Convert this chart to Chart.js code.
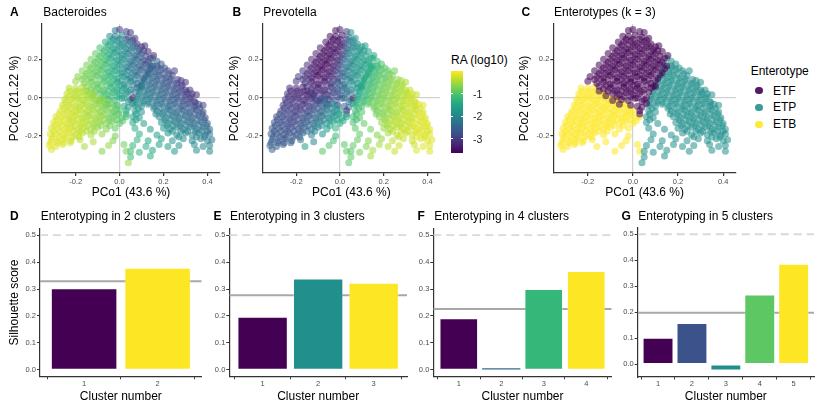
<!DOCTYPE html>
<html>
<head>
<meta charset="utf-8">
<script src="https://cdn.jsdelivr.net/npm/chart.js@4.4.1/dist/chart.umd.min.js"></script>
<style>
  body { margin: 0; background: #fff; }
  #page { position: relative; width: 816px; height: 408px; overflow: hidden; font-family: "Liberation Sans", Arial, sans-serif; }
  canvas { position: absolute; }
  .txt { position: absolute; white-space: nowrap; font-size: 12px; line-height: 14px; height: 14px; color: #000; }
  .tag { font-weight: bold; }
</style>
</head>
<body>
<div id="page"></div>
<script>
// PCoA coordinates: [PCo1, PCo2, Bacteroides log10 RA, Prevotella log10 RA]
const etfPoints = [
  [-0.02,0.35,-2.2,-3.5],[0.00,0.355,-3.0,-3.3],[0.03,0.345,-3.0,-3.0],[0.05,0.34,-3.1,-1.9],
  [-0.045,0.32,-1.9,-3.5],[-0.02,0.32,-2.2,-3.5],[0.01,0.325,-1.9,-3.4],[0.04,0.315,-2.6,-2.2],[0.07,0.31,-3.1,-1.8],
  [-0.03,0.305,-1.8,-3.5],[0.00,0.305,-2.2,-3.4],[0.03,0.305,-2.8,-2.8],[0.06,0.30,-3.0,-1.9],
  [-0.065,0.29,-1.4,-3.4],[-0.04,0.29,-1.6,-3.5],[-0.01,0.295,-1.8,-3.5],[0.02,0.285,-1.9,-3.0],[0.05,0.29,-2.4,-2.1],[0.08,0.28,-3.2,-1.8],
  [-0.05,0.275,-1.5,-3.5],[-0.02,0.275,-1.7,-3.5],[0.01,0.275,-1.9,-3.2],[0.04,0.275,-2.2,-2.3],[0.07,0.27,-2.6,-1.9],[0.10,0.265,-3.1,-1.7],
  [-0.09,0.26,-1.1,-3.4],[-0.06,0.26,-1.3,-3.5],[-0.03,0.255,-1.6,-3.5],[0.00,0.265,-1.8,-3.4],[0.03,0.255,-2.0,-2.6],[0.06,0.26,-2.3,-2.0],[0.09,0.25,-2.6,-1.8],[0.115,0.27,-3.2,-1.7],
  [-0.07,0.245,-1.2,-3.5],[-0.04,0.245,-1.5,-3.5],[-0.01,0.245,-1.7,-3.4],[0.02,0.245,-1.9,-2.8],[0.05,0.245,-2.2,-2.0],[0.08,0.24,-2.5,-1.8],[0.11,0.245,-2.9,-1.7],
  [-0.11,0.23,-0.9,-3.3],[-0.08,0.23,-1.1,-3.5],[-0.05,0.225,-1.4,-3.5],[-0.02,0.235,-1.7,-3.4],[0.01,0.225,-1.8,-3.0],[0.04,0.23,-2.1,-2.0],[0.07,0.22,-2.4,-1.8],[0.10,0.23,-2.7,-1.6],[0.13,0.24,-3.2,-1.6],
  [-0.09,0.215,-1.0,-3.5],[-0.06,0.215,-1.2,-3.5],[-0.03,0.215,-1.5,-3.4],[0.00,0.215,-1.8,-3.2],[0.03,0.215,-2.0,-2.4],[0.06,0.21,-2.3,-1.9],[0.09,0.215,-2.5,-1.7],[0.12,0.215,-2.9,-1.6],
  [-0.13,0.20,-0.8,-3.3],[-0.10,0.20,-1.0,-3.5],[-0.07,0.195,-1.1,-3.5],[-0.04,0.205,-1.4,-3.4],[-0.01,0.195,-1.7,-3.3],[0.02,0.20,-1.9,-2.4],[0.05,0.19,-2.2,-2.0],[0.08,0.20,-2.4,-1.7],[0.11,0.195,-2.7,-1.6],[0.14,0.205,-3.3,-1.5],[0.155,0.22,-3.3,-1.5],
  [-0.11,0.185,-0.9,-3.4],[-0.08,0.185,-1.0,-3.5],[-0.05,0.185,-1.3,-3.5],[-0.02,0.185,-1.5,-3.3],[0.01,0.185,-1.8,-2.6],[0.04,0.18,-2.1,-2.1],[0.07,0.185,-2.3,-1.8],[0.10,0.185,-2.6,-1.6],[0.13,0.185,-2.9,-1.5],
  [-0.15,0.17,-0.8,-3.2],[-0.12,0.17,-0.9,-3.4],[-0.09,0.165,-1.0,-3.5],[-0.06,0.175,-1.2,-3.5],[-0.03,0.165,-1.4,-3.3],[0.00,0.17,-1.7,-2.8],[0.03,0.16,-2.0,-2.2],[0.06,0.17,-2.3,-1.9],[0.09,0.165,-2.5,-1.7],[0.12,0.175,-2.8,-1.6],[0.15,0.165,-3.2,-1.5],
  [-0.13,0.155,-0.8,-3.3],[-0.10,0.155,-0.9,-3.5],[-0.07,0.155,-1.1,-3.5],[-0.04,0.155,-1.3,-3.4],[-0.01,0.155,-1.6,-3.0],[0.02,0.15,-1.9,-2.3],[0.05,0.155,-2.2,-2.0],[0.08,0.155,-2.4,-1.7],[0.11,0.155,-2.6,-1.6],[0.14,0.15,-3.0,-1.5],
  [-0.17,0.14,-0.7,-3.1],[-0.14,0.14,-0.8,-3.2],[-0.11,0.135,-0.9,-3.5],[-0.08,0.145,-1.0,-3.5],[-0.05,0.135,-1.3,-3.4],[-0.02,0.14,-1.5,-3.0],[0.01,0.13,-1.8,-2.4],[0.04,0.14,-2.1,-2.0],[0.07,0.135,-2.3,-1.8],[0.10,0.145,-2.5,-1.6],[0.13,0.13,-2.8,-1.6],
  [-0.15,0.125,-0.75,-3.2],[-0.12,0.125,-0.85,-3.4],[-0.09,0.125,-1.0,-3.5],[-0.06,0.125,-1.2,-3.5],[-0.03,0.125,-1.4,-3.3],[0.00,0.125,-1.6,-2.7],[0.03,0.12,-1.9,-2.2],[0.06,0.125,-2.2,-1.9],[0.09,0.125,-2.4,-1.7],[0.12,0.12,-2.7,-1.6],
  [-0.19,0.11,-0.7,-3.0],[-0.16,0.11,-0.8,-3.1],[-0.13,0.105,-0.8,-3.4],[-0.10,0.115,-0.9,-3.5],[-0.07,0.105,-1.1,-3.4],[-0.04,0.11,-1.3,-3.2],[-0.01,0.10,-1.5,-2.8],[0.02,0.11,-1.8,-2.3],[0.05,0.105,-2.1,-2.0],[0.08,0.115,-2.3,-1.7],[0.11,0.10,-2.5,-1.6],
  [-0.17,0.095,-0.7,-3.1],[-0.14,0.095,-0.8,-3.3],[-0.11,0.095,-0.9,-3.4],[-0.08,0.095,-1.0,-3.4],[-0.05,0.095,-1.2,-3.3],[-0.02,0.095,-1.4,-3.0],[0.01,0.09,-1.7,-2.5],[0.04,0.095,-2.0,-2.1],[0.07,0.095,-2.2,-1.8],[0.10,0.09,-2.5,-1.6],
  [-0.20,0.085,-0.6,-3.1],[-0.16,0.075,-0.7,-3.0],[-0.13,0.08,-0.8,-3.3],[-0.10,0.07,-0.9,-3.4],[-0.07,0.085,-1.0,-3.3],[-0.04,0.075,-1.2,-3.0],[-0.01,0.08,-1.5,-2.6],[0.02,0.07,-1.8,-2.2],[0.05,0.085,-2.0,-1.9],[0.08,0.075,-2.3,-1.7],[0.10,0.06,-2.5,-1.5],
  [-0.15,0.06,-0.7,-3.1],[-0.12,0.065,-0.8,-3.3],[-0.09,0.065,-0.9,-3.3],[-0.06,0.065,-1.1,-3.2],[-0.03,0.065,-1.3,-2.9],[0.00,0.065,-1.6,-2.5],[0.03,0.06,-1.8,-2.2],[0.06,0.065,-2.1,-1.9],[0.09,0.06,-2.4,-1.6],
  [-0.13,0.045,-0.8,-3.2],[-0.10,0.05,-0.9,-3.3],[-0.07,0.04,-1.0,-3.3],[-0.04,0.055,-1.2,-3.0],[-0.01,0.045,-1.4,-2.7],[0.02,0.05,-1.7,-2.3],[0.05,0.04,-2.0,-2.0],[0.08,0.05,-2.3,-1.7],
  [-0.11,0.035,-0.85,-3.2],[-0.08,0.035,-1.0,-3.2],[-0.05,0.035,-1.2,-3.0],[-0.02,0.035,-1.4,-2.7],[0.01,0.035,-1.6,-2.4],[0.04,0.03,-1.9,-2.1],[0.07,0.03,-2.2,-1.8],
  [-0.15,0.035,-0.7,-3.1],[-0.12,0.01,-0.8,-3.1],[-0.09,0.02,-1.0,-3.2],[-0.06,0.015,-1.1,-3.1],[-0.03,0.025,-1.3,-2.9],[0.00,0.015,-1.5,-2.6],[0.03,0.02,-1.8,-2.3],
  [-0.07,0.005,-1.1,-3.0],[-0.04,0.005,-1.2,-2.9],[-0.01,0.005,-1.4,-2.7],[0.02,0.0,-1.6,-2.4],[0.05,-0.01,-1.9,-2.1],
  [-0.09,-0.015,-1.0,-3.0],[-0.05,-0.01,-1.2,-3.0],[-0.02,-0.015,-1.3,-2.8],[0.01,-0.005,-1.5,-2.6],[0.04,-0.02,-1.8,-2.3],[0.06,-0.03,-2.0,-2.0],
  [-0.06,-0.035,-1.1,-2.9],[-0.01,-0.04,-1.3,-2.8],[0.02,-0.045,-1.5,-2.5],[0.04,-0.05,-1.8,-2.2],
  [0.03,-0.068,-1.3,-3.3],[0.03,-0.085,-1.5,-2.3],[0.06,0.00,-3.5,-3.4]
];
const etpPoints = [
  [0.15,0.205,-2.4,-1.4],[0.17,0.19,-2.5,-1.2],
  [0.14,0.17,-2.4,-1.4],[0.17,0.165,-2.6,-1.2],[0.19,0.175,-2.7,-1.1],
  [0.145,0.155,-2.4,-1.4],[0.175,0.155,-2.6,-1.2],[0.205,0.155,-2.7,-1.0],
  [0.13,0.14,-2.3,-1.4],[0.16,0.135,-2.5,-1.2],[0.19,0.145,-2.6,-1.0],[0.22,0.14,-2.8,-0.9],[0.25,0.14,-3.0,-0.8],
  [0.135,0.125,-2.4,-1.3],[0.165,0.125,-2.5,-1.1],[0.195,0.125,-2.6,-1.0],[0.225,0.125,-2.8,-0.9],
  [0.12,0.11,-2.3,-1.4],[0.15,0.105,-2.4,-1.2],[0.18,0.115,-2.6,-1.0],[0.21,0.105,-2.7,-0.9],[0.24,0.115,-2.9,-0.7],
  [0.115,0.095,-2.3,-1.4],[0.145,0.095,-2.4,-1.2],[0.175,0.095,-2.6,-1.0],[0.205,0.095,-2.7,-0.9],[0.235,0.095,-2.8,-0.7],[0.265,0.095,-3.0,-0.6],
  [0.11,0.08,-2.2,-1.4],[0.14,0.075,-2.3,-1.2],[0.17,0.085,-2.5,-1.0],[0.20,0.075,-2.6,-0.8],[0.23,0.085,-2.7,-0.7],[0.26,0.075,-2.9,-0.6],[0.28,0.09,-3.0,-0.5],[0.30,0.08,-3.1,-0.5],
  [0.105,0.065,-2.2,-1.4],[0.135,0.065,-2.3,-1.2],[0.165,0.065,-2.5,-1.0],[0.195,0.065,-2.6,-0.8],[0.225,0.065,-2.7,-0.7],[0.255,0.065,-2.8,-0.6],[0.285,0.065,-3.0,-0.5],
  [0.10,0.05,-2.1,-1.5],[0.13,0.045,-2.3,-1.2],[0.16,0.055,-2.4,-1.0],[0.19,0.045,-2.5,-0.8],[0.22,0.055,-2.6,-0.7],[0.25,0.045,-2.8,-0.6],[0.28,0.055,-2.9,-0.5],[0.30,0.04,-3.1,-0.4],
  [0.095,0.035,-2.1,-1.5],[0.125,0.035,-2.2,-1.2],[0.155,0.035,-2.3,-1.0],[0.185,0.035,-2.4,-0.8],[0.215,0.035,-2.5,-0.7],[0.245,0.035,-2.7,-0.6],[0.275,0.035,-2.8,-0.5],[0.305,0.03,-3.0,-0.4],[0.32,0.04,-3.1,-0.3],
  [0.09,0.02,-2.0,-1.5],[0.12,0.015,-2.2,-1.2],[0.15,0.025,-2.3,-1.0],[0.18,0.015,-2.4,-0.8],[0.21,0.025,-2.5,-0.7],[0.24,0.015,-2.6,-0.6],[0.27,0.025,-2.8,-0.5],[0.30,0.015,-2.9,-0.4],[0.33,0.02,-3.1,-0.3],[0.35,0.015,-3.2,-0.3],
  [0.085,0.005,-2.0,-1.5],[0.115,0.005,-2.1,-1.2],[0.145,0.005,-2.2,-1.0],[0.175,0.005,-2.3,-0.8],[0.205,0.005,-2.5,-0.7],[0.235,0.005,-2.6,-0.6],[0.265,0.005,-2.7,-0.5],[0.295,0.005,-2.9,-0.4],[0.325,0.005,-3.0,-0.3],
  [0.08,-0.01,-1.9,-1.4],[0.11,-0.015,-2.1,-1.2],[0.14,-0.005,-2.2,-1.0],[0.17,-0.015,-2.3,-0.8],[0.20,-0.005,-2.4,-0.7],[0.23,-0.015,-2.5,-0.6],[0.26,-0.005,-2.7,-0.5],[0.29,-0.015,-2.8,-0.4],[0.32,-0.005,-3.0,-0.3],[0.34,-0.02,-3.0,-0.3],
  [0.075,-0.025,-1.9,-1.4],[0.105,-0.025,-2.0,-1.2],[0.135,-0.025,-2.1,-1.0],[0.165,-0.025,-2.2,-0.8],[0.195,-0.025,-2.3,-0.7],[0.225,-0.025,-2.5,-0.6],[0.255,-0.025,-2.6,-0.5],[0.285,-0.025,-2.7,-0.4],[0.315,-0.025,-2.9,-0.3],[0.345,-0.025,-3.0,-0.3],
  [0.07,-0.04,-1.8,-1.3],[0.10,-0.045,-1.9,-1.1],[0.13,-0.035,-2.0,-0.9],[0.16,-0.045,-2.2,-0.8],[0.19,-0.035,-2.3,-0.7],[0.22,-0.045,-2.4,-0.6],[0.25,-0.035,-2.5,-0.5],[0.28,-0.045,-2.6,-0.4],[0.31,-0.035,-2.7,-0.3],[0.34,-0.045,-2.9,-0.3],[0.36,-0.035,-2.8,-0.2],[0.38,-0.04,-3.0,-0.2],
  [0.085,-0.055,-1.8,-1.2],[0.155,-0.055,-2.1,-0.8],[0.185,-0.055,-2.2,-0.7],[0.215,-0.055,-2.3,-0.6],[0.245,-0.055,-2.4,-0.5],[0.275,-0.055,-2.5,-0.4],[0.305,-0.055,-2.6,-0.3],[0.335,-0.055,-2.7,-0.3],[0.365,-0.055,-2.8,-0.2],
  [0.07,-0.07,-1.7,-1.2],[0.10,-0.075,-1.8,-1.0],[0.17,-0.07,-2.1,-0.8],[0.20,-0.075,-2.2,-0.7],[0.23,-0.065,-2.3,-0.6],[0.26,-0.075,-2.4,-0.5],[0.29,-0.065,-2.5,-0.4],[0.32,-0.075,-2.6,-0.3],[0.35,-0.065,-2.7,-0.3],[0.38,-0.075,-2.8,-0.2],
  [0.075,-0.085,-1.7,-1.1],[0.165,-0.085,-2.0,-0.8],[0.195,-0.085,-2.1,-0.7],[0.225,-0.085,-2.2,-0.6],[0.255,-0.085,-2.3,-0.5],[0.285,-0.085,-2.4,-0.4],[0.315,-0.085,-2.5,-0.3],[0.345,-0.085,-2.6,-0.3],[0.375,-0.085,-2.7,-0.2],
  [0.06,-0.10,-1.6,-1.2],[0.09,-0.105,-1.7,-1.0],[0.18,-0.10,-2.0,-0.7],[0.21,-0.105,-2.1,-0.6],[0.24,-0.095,-2.2,-0.5],[0.27,-0.105,-2.3,-0.4],[0.30,-0.095,-2.4,-0.3],[0.33,-0.105,-2.5,-0.3],[0.36,-0.095,-2.6,-0.2],[0.39,-0.105,-2.7,-0.2],
  [0.075,-0.115,-1.6,-1.1],[0.205,-0.115,-2.0,-0.6],[0.235,-0.115,-2.1,-0.5],[0.265,-0.115,-2.2,-0.4],[0.295,-0.115,-2.3,-0.3],[0.325,-0.115,-2.4,-0.3],[0.355,-0.115,-2.5,-0.2],[0.385,-0.115,-2.6,-0.2],
  [0.06,-0.13,-1.5,-1.1],[0.11,-0.135,-1.6,-0.9],[0.19,-0.13,-1.9,-0.6],[0.22,-0.135,-2.0,-0.5],[0.25,-0.125,-2.1,-0.4],[0.28,-0.135,-2.2,-0.4],[0.31,-0.125,-2.3,-0.3],[0.34,-0.135,-2.4,-0.2],[0.37,-0.125,-2.4,-0.2],[0.40,-0.135,-2.5,-0.2],
  [0.215,-0.145,-1.9,-0.5],[0.245,-0.145,-2.0,-0.4],[0.275,-0.145,-2.1,-0.4],[0.305,-0.145,-2.2,-0.3],[0.335,-0.145,-2.3,-0.2],[0.365,-0.145,-2.3,-0.2],[0.395,-0.145,-2.4,-0.2],
  [0.07,-0.16,-1.4,-1.0],[0.14,-0.165,-1.6,-0.8],[0.20,-0.16,-1.8,-0.6],[0.23,-0.165,-1.9,-0.5],[0.26,-0.155,-2.0,-0.4],[0.29,-0.165,-2.1,-0.3],[0.32,-0.155,-2.2,-0.3],[0.35,-0.165,-2.2,-0.2],[0.38,-0.155,-2.3,-0.2],[0.41,-0.165,-2.3,-0.2],
  [0.24,-0.175,-1.9,-0.4],[0.28,-0.175,-2.0,-0.3],[0.31,-0.175,-2.1,-0.3],[0.345,-0.175,-2.2,-0.2],[0.375,-0.175,-2.2,-0.2],[0.40,-0.175,-2.3,-0.2],
  [0.09,-0.19,-1.4,-0.9],[0.17,-0.195,-1.6,-0.7],[0.22,-0.185,-1.8,-0.5],[0.26,-0.195,-1.9,-0.4],[0.30,-0.185,-2.0,-0.3],[0.33,-0.195,-2.0,-0.3],[0.36,-0.185,-2.1,-0.2],[0.39,-0.195,-2.2,-0.2],[0.41,-0.19,-2.2,-0.2],
  [0.27,-0.205,-1.9,-0.3],[0.35,-0.205,-2.1,-0.2],[0.385,-0.205,-2.2,-0.2],
  [0.08,-0.22,-1.3,-0.9],[0.13,-0.225,-1.5,-0.7],[0.19,-0.215,-1.6,-0.6],[0.24,-0.225,-1.8,-0.4],[0.29,-0.215,-1.9,-0.3],[0.33,-0.225,-2.0,-0.3],[0.37,-0.215,-2.0,-0.2],[0.40,-0.225,-2.1,-0.2],[0.42,-0.22,-2.2,-0.2],
  [0.06,-0.25,-1.3,-0.9],[0.12,-0.255,-1.4,-0.7],[0.18,-0.245,-1.6,-0.5],[0.22,-0.255,-1.7,-0.4],[0.27,-0.25,-1.8,-0.3],[0.34,-0.245,-1.9,-0.3],[0.38,-0.255,-2.0,-0.2],[0.41,-0.25,-2.1,-0.2],
  [0.05,-0.28,-1.2,-1.0],[0.09,-0.285,-1.3,-0.8],[0.15,-0.275,-1.5,-0.5],[0.25,-0.28,-1.7,-0.3],[0.35,-0.275,-1.9,-0.2],[0.41,-0.28,-2.0,-0.2],
  [0.05,-0.31,-1.2,-0.9],[0.14,-0.305,-1.4,-0.5],
  [0.04,-0.34,-0.6,-1.0]
];
const etbPoints = [
  [-0.23,0.05,-0.4,-3.2],[-0.20,0.05,-0.4,-3.3],[-0.17,0.055,-0.5,-3.3],
  [-0.225,0.035,-0.35,-3.2],[-0.195,0.035,-0.4,-3.3],[-0.165,0.035,-0.45,-3.3],[-0.135,0.03,-0.55,-3.2],
  [-0.24,0.02,-0.3,-3.1],[-0.21,0.02,-0.4,-3.2],[-0.18,0.025,-0.4,-3.3],[-0.15,0.015,-0.5,-3.3],[-0.12,0.02,-0.6,-3.2],
  [-0.235,0.005,-0.3,-3.1],[-0.205,0.005,-0.35,-3.2],[-0.175,0.005,-0.4,-3.2],[-0.145,0.005,-0.5,-3.2],[-0.115,0.0,-0.55,-3.0],[-0.085,-0.005,-0.65,-2.8],
  [-0.25,-0.01,-0.3,-3.0],[-0.22,-0.01,-0.3,-3.1],[-0.19,-0.005,-0.4,-3.2],[-0.16,-0.015,-0.4,-3.2],[-0.13,-0.005,-0.5,-3.1],[-0.10,-0.015,-0.6,-2.9],[-0.07,-0.01,-0.7,-2.6],
  [-0.245,-0.025,-0.3,-3.0],[-0.215,-0.025,-0.3,-3.1],[-0.185,-0.025,-0.4,-3.1],[-0.155,-0.025,-0.45,-3.1],[-0.125,-0.025,-0.55,-3.0],[-0.095,-0.025,-0.6,-2.8],[-0.065,-0.025,-0.7,-2.5],[-0.035,-0.03,-0.85,-2.2],
  [-0.26,-0.04,-0.3,-3.0],[-0.23,-0.04,-0.3,-3.0],[-0.20,-0.045,-0.3,-3.1],[-0.17,-0.035,-0.4,-3.1],[-0.14,-0.045,-0.5,-3.0],[-0.11,-0.035,-0.6,-2.8],[-0.08,-0.045,-0.7,-2.5],[-0.05,-0.035,-0.8,-2.2],[-0.02,-0.045,-0.9,-2.0],
  [-0.255,-0.055,-0.25,-2.9],[-0.225,-0.055,-0.3,-3.0],[-0.195,-0.055,-0.35,-3.0],[-0.165,-0.055,-0.4,-3.0],[-0.135,-0.055,-0.5,-2.9],[-0.105,-0.055,-0.6,-2.7],[-0.075,-0.055,-0.7,-2.4],[-0.045,-0.055,-0.8,-2.1],[-0.015,-0.06,-0.95,-1.8],
  [-0.27,-0.07,-0.2,-2.9],[-0.24,-0.07,-0.3,-2.9],[-0.21,-0.075,-0.3,-3.0],[-0.18,-0.065,-0.4,-3.0],[-0.15,-0.075,-0.4,-2.9],[-0.12,-0.065,-0.5,-2.7],[-0.09,-0.075,-0.6,-2.5],[-0.06,-0.065,-0.7,-2.2],[-0.03,-0.075,-0.9,-1.9],[0.00,-0.07,-1.0,-1.6],
  [-0.275,-0.085,-0.2,-2.8],[-0.245,-0.085,-0.25,-2.9],[-0.215,-0.085,-0.3,-2.9],[-0.185,-0.085,-0.35,-2.9],[-0.155,-0.085,-0.45,-2.8],[-0.125,-0.085,-0.5,-2.6],[-0.095,-0.085,-0.6,-2.4],[-0.065,-0.085,-0.7,-2.1],[-0.035,-0.085,-0.85,-1.9],[-0.005,-0.085,-1.0,-1.6],
  [-0.29,-0.10,-0.2,-2.8],[-0.26,-0.10,-0.2,-2.8],[-0.23,-0.105,-0.3,-2.9],[-0.20,-0.095,-0.3,-2.9],[-0.17,-0.105,-0.4,-2.8],[-0.14,-0.095,-0.5,-2.7],[-0.11,-0.105,-0.5,-2.5],[-0.08,-0.095,-0.6,-2.3],[-0.05,-0.105,-0.8,-2.0],[-0.02,-0.095,-0.9,-1.8],[0.01,-0.105,-1.0,-1.5],[0.03,-0.10,-1.1,-1.4],
  [-0.285,-0.115,-0.2,-2.8],[-0.255,-0.115,-0.2,-2.8],[-0.225,-0.115,-0.3,-2.9],[-0.195,-0.115,-0.3,-2.8],[-0.165,-0.115,-0.4,-2.7],[-0.135,-0.115,-0.5,-2.5],[-0.105,-0.115,-0.55,-2.3],[-0.075,-0.115,-0.65,-2.1],[-0.045,-0.115,-0.8,-1.8],[-0.015,-0.115,-0.9,-1.6],[0.015,-0.12,-1.0,-1.4],
  [-0.30,-0.13,-0.2,-2.7],[-0.27,-0.13,-0.2,-2.8],[-0.24,-0.135,-0.2,-2.8],[-0.21,-0.125,-0.3,-2.9],[-0.18,-0.135,-0.3,-2.8],[-0.15,-0.125,-0.4,-2.6],[-0.12,-0.135,-0.5,-2.4],[-0.09,-0.125,-0.6,-2.2],[-0.06,-0.135,-0.7,-1.9],[-0.03,-0.125,-0.8,-1.6],[0.00,-0.135,-1.0,-1.4],
  [-0.295,-0.145,-0.2,-2.7],[-0.265,-0.145,-0.2,-2.8],[-0.235,-0.145,-0.25,-2.8],[-0.205,-0.145,-0.3,-2.8],[-0.175,-0.145,-0.35,-2.6],[-0.145,-0.145,-0.45,-2.4],[-0.115,-0.145,-0.55,-2.2],[-0.085,-0.145,-0.65,-1.9],[-0.045,-0.145,-0.8,-1.5],
  [-0.31,-0.16,-0.2,-2.7],[-0.28,-0.16,-0.2,-2.7],[-0.25,-0.165,-0.2,-2.8],[-0.22,-0.155,-0.3,-2.8],[-0.19,-0.165,-0.3,-2.7],[-0.16,-0.155,-0.4,-2.5],[-0.13,-0.165,-0.5,-2.3],[-0.10,-0.155,-0.6,-2.0],[-0.06,-0.165,-0.7,-1.7],[-0.02,-0.16,-0.9,-1.3],
  [-0.30,-0.175,-0.2,-2.7],[-0.27,-0.175,-0.2,-2.7],[-0.24,-0.175,-0.2,-2.8],[-0.21,-0.175,-0.3,-2.7],[-0.18,-0.175,-0.35,-2.6],[-0.15,-0.175,-0.45,-2.4],[-0.115,-0.175,-0.55,-2.1],
  [-0.315,-0.19,-0.2,-2.6],[-0.29,-0.19,-0.2,-2.7],[-0.26,-0.195,-0.2,-2.7],[-0.23,-0.185,-0.2,-2.8],[-0.20,-0.195,-0.3,-2.7],[-0.17,-0.185,-0.4,-2.5],[-0.13,-0.195,-0.5,-2.2],[-0.08,-0.19,-0.6,-1.8],[-0.02,-0.20,-0.8,-1.2],
  [-0.305,-0.205,-0.2,-2.6],[-0.275,-0.205,-0.2,-2.7],[-0.245,-0.205,-0.2,-2.7],[-0.215,-0.205,-0.3,-2.6],[-0.185,-0.205,-0.35,-2.5],
  [-0.31,-0.22,-0.2,-2.6],[-0.28,-0.225,-0.2,-2.7],[-0.25,-0.215,-0.2,-2.7],[-0.22,-0.225,-0.3,-2.6],[-0.18,-0.22,-0.4,-2.4],[-0.12,-0.23,-0.5,-2.0],[-0.03,-0.225,-0.7,-1.1],
  [-0.315,-0.235,-0.15,-2.6],[-0.285,-0.235,-0.2,-2.6],[-0.255,-0.235,-0.2,-2.7],[-0.225,-0.235,-0.25,-2.6],
  [-0.32,-0.25,-0.1,-2.5],[-0.29,-0.255,-0.2,-2.6],[-0.26,-0.245,-0.2,-2.6],[-0.16,-0.255,-0.5,-1.6],[-0.05,-0.25,-0.6,-1.0],[0.02,-0.245,-0.8,-1.0],
  [-0.31,-0.27,-0.2,-2.5],[-0.08,-0.28,-0.7,-1.0],[0.03,-0.28,-0.8,-0.9]
];
const pcoXTicks = [-0.2, 0, 0.2, 0.4];
const pcoYTicks = [-0.2, 0, 0.2];
const raTicks = [-1, -2, -3];
const enterotypes = ['ETF', 'ETP', 'ETB'];

const scoresK2 = [0.302, 0.378];
const scoresK3 = [0.196, 0.338, 0.322];
const scoresK4 = [0.191, 0.006, 0.299, 0.366];
const scoresK5 = [0.101, 0.158, -0.023, 0.268, 0.386];
const meanScores = [0.329, 0.277, 0.226, 0.198];
const silTicks = [0, 0.1, 0.2, 0.3, 0.4, 0.5];

// viridis palettes
const viridisStops = ['#440154','#482475','#414487','#355f8d','#2a788e','#21918c','#22a884','#44bf70','#7ad151','#bddf26','#fde725'];
const palettes = {
  2: ['#440154', '#FDE725'],
  3: ['#440154', '#21908C', '#FDE725'],
  4: ['#440154', '#31688E', '#35B779', '#FDE725'],
  5: ['#440154', '#3B528B', '#21908C', '#5DC863', '#FDE725']
};
const raMin = -3.64, raMax = 0;

function hexRgb(h) {
  return [parseInt(h.slice(1, 3), 16), parseInt(h.slice(3, 5), 16), parseInt(h.slice(5, 7), 16)];
}
function viridis(t, alpha) {
  t = Math.min(1, Math.max(0, t));
  const s = t * 10, i = Math.min(9, Math.floor(s)), f = s - i;
  const a = hexRgb(viridisStops[i]), b = hexRgb(viridisStops[i + 1]);
  const c = a.map((v, k) => Math.round(v + (b[k] - v) * f));
  return 'rgba(' + c.join(',') + ',' + alpha + ')';
}
function raColor(v) { return viridis((v - raMin) / (raMax - raMin), 0.55); }
function withAlpha(h, a) { return 'rgba(' + hexRgb(h).join(',') + ',' + a + ')'; }

Chart.defaults.font.family = '"Liberation Sans", Arial, sans-serif';
Chart.defaults.color = '#4d4d4d';

const page = document.getElementById('page');

function addCanvas(left, top, w, h) {
  const c = document.createElement('canvas');
  c.width = w; c.height = h;
  c.style.left = left + 'px'; c.style.top = top + 'px';
  c.style.width = w + 'px'; c.style.height = h + 'px';
  page.appendChild(c);
  return c;
}
function addText(text, left, cy, cls, extra) {
  const d = document.createElement('div');
  d.className = 'txt' + (cls ? ' ' + cls : '');
  d.textContent = text;
  d.style.left = left + 'px';
  d.style.top = (cy - 7) + 'px';
  if (extra) Object.assign(d.style, extra);
  page.appendChild(d);
  return d;
}

// ---------- scatter panels ----------
function scatterChart(canvas, datasets, box) {
  return new Chart(canvas, {
    type: 'scatter',
    data: { datasets: datasets },
    options: {
      responsive: false,
      animation: false,
      layout: { padding: { left: 0, top: box.padTop, right: box.padRight, bottom: 0 } },
      plugins: { legend: { display: false }, tooltip: { enabled: false } },
      elements: { point: { radius: 3.5, borderWidth: 0, hoverRadius: 3.5 } },
      scales: {
        x: {
          type: 'linear', min: -0.353, max: 0.457,
          afterBuildTicks: s => { s.ticks = pcoXTicks.map(v => ({ value: v })); },
          afterFit: s => { s.height = box.xHeight; },
          grid: {
            color: c => (c.tick && c.tick.value === 0) ? '#d2d2d2' : 'rgba(0,0,0,0)',
            lineWidth: 1.2, tickColor: '#333', tickLength: 3
          },
          border: { color: '#333', width: 1.2 },
          ticks: { color: '#4d4d4d', font: { size: 7.5, lineHeight: 1 }, padding: 2.5, maxRotation: 0,
                   callback: v => v.toFixed(1) },
          title: { display: true, text: 'PCo1 (43.6 %)', color: '#000', font: { size: 12 },
                   padding: { top: 0, bottom: 0.3 } }
        },
        y: {
          type: 'linear', min: -0.393, max: 0.384,
          afterBuildTicks: s => { s.ticks = pcoYTicks.map(v => ({ value: v })); },
          afterFit: s => { s.width = box.yWidth; },
          grid: {
            color: c => (c.tick && c.tick.value === 0) ? '#d2d2d2' : 'rgba(0,0,0,0)',
            lineWidth: 1.2, tickColor: '#333', tickLength: 3
          },
          border: { color: '#333', width: 1.2 },
          ticks: { color: '#4d4d4d', font: { size: 7.5 }, padding: 1, callback: v => v.toFixed(1) },
          title: { display: true, text: 'PCo2 (21.22 %)', color: '#000', font: { size: 12 },
                   padding: { top: box.yTitlePad, bottom: 0 } }
        }
      }
    }
  });
}

const allPoints = etfPoints.concat(etpPoints, etbPoints);

scatterChart(addCanvas(0, 0, 225, 200), [{
  data: allPoints.map(p => ({ x: p[0], y: p[1], v: p[2] })),
  backgroundColor: c => c.raw ? raColor(c.raw.v) : '#888'
}], { yWidth: 42, xHeight: 27, padTop: 24, padRight: 5, yTitlePad: 7.5 });

scatterChart(addCanvas(222, 0, 222, 200), [{
  data: allPoints.map(p => ({ x: p[0], y: p[1], v: p[3] })),
  backgroundColor: c => c.raw ? raColor(c.raw.v) : '#888'
}], { yWidth: 40.7, xHeight: 27, padTop: 24, padRight: 4, yTitlePad: 5.5 });

scatterChart(addCanvas(510, 0, 230, 200), [etfPoints, etpPoints, etbPoints].map((pts, i) => ({
  label: enterotypes[i],
  data: pts.map(p => ({ x: p[0], y: p[1] })),
  backgroundColor: withAlpha(palettes[3][i], 0.55)
})), { yWidth: 43.3, xHeight: 27, padTop: 24, padRight: 4, yTitlePad: 7.1 });

addText('A', 10, 11.7, 'tag');
addText('Bacteroides', 43.3, 11.7);
addText('B', 232.5, 11.7, 'tag');
addText('Prevotella', 263.3, 11.7);
addText('C', 521.5, 11.7, 'tag');
addText('Enterotypes (k = 3)', 554, 11.7);

// colour bar legend
addText('RA (log10)', 451, 60);
const barTop = 71, barH = 82, barLeft = 451, barW = 12;
const cb = document.createElement('div');
cb.style.cssText = 'position:absolute;left:' + barLeft + 'px;top:' + barTop + 'px;width:' + barW + 'px;height:' + barH + 'px;';
cb.style.background = 'linear-gradient(to top,' + viridisStops.join(',') + ')';
page.appendChild(cb);
raTicks.forEach(v => {
  const y = barTop + (raMax - v) / (raMax - raMin) * barH;
  [0, barW - 2.4].forEach(l => {
    const t = document.createElement('div');
    t.style.cssText = 'position:absolute;height:1px;width:2.4px;background:#fff;left:' + (barLeft + l) + 'px;top:' + (y - 0.5) + 'px;';
    page.appendChild(t);
  });
  addText(String(v), 473, y, '', { fontSize: '10.5px', color: '#222' });
});

// enterotype legend
addText('Enterotype', 750.7, 71);
[90.7, 107.3, 124.3].forEach((y, i) => {
  const dot = document.createElement('div');
  dot.style.cssText = 'position:absolute;width:7.4px;height:7.4px;border-radius:50%;left:' + (759 - 3.7) + 'px;top:' + (y - 3.7) + 'px;background:' + withAlpha(palettes[3][i], 0.9) + ';';
  page.appendChild(dot);
  addText(enterotypes[i], 773, y);
});

// ---------- silhouette bar panels ----------
function barChart(canvas, scores, mean, box) {
  const n = scores.length;
  return new Chart(canvas, {
    type: 'bar',
    data: {
      datasets: [
        {
          type: 'bar',
          data: scores.map((v, i) => ({ x: i + 1, y: v })),
          backgroundColor: palettes[n],
          borderColor: 'rgba(255,255,255,0.4)',
          borderWidth: c => (c.raw && Math.abs(c.raw.y) < 0.02) ? 0 : 0.8,
          borderSkipped: false,
          barPercentage: 0.9,
          categoryPercentage: 1,
          order: 1
        },
        {
          type: 'line',
          data: [{ x: 0.4, y: 0.5 }, { x: n + 0.6, y: 0.5 }],
          borderColor: '#d9d9d9', borderWidth: 1.8, borderDash: [8, 5],
          pointRadius: 0, order: 3
        },
        {
          type: 'line',
          data: [{ x: 0.4, y: mean }, { x: n + 0.6, y: mean }],
          borderColor: '#a8a8a8', borderWidth: 2,
          pointRadius: 0, order: 2
        }
      ]
    },
    options: {
      responsive: false,
      animation: false,
      layout: { padding: { left: 0, top: box.padTop, right: box.padRight, bottom: 0 } },
      plugins: { legend: { display: false }, tooltip: { enabled: false } },
      scales: {
        x: {
          type: 'linear', min: 0.4, max: n + 0.6, offset: false,
          afterBuildTicks: s => { s.ticks = scores.map((v, i) => ({ value: i + 1 })); },
          afterFit: s => { s.height = box.xHeight; },
          grid: { drawOnChartArea: false, tickColor: '#333', tickLength: 2.5 },
          border: { color: '#333', width: 1.2 },
          ticks: { color: '#4d4d4d', font: { size: 7.5, lineHeight: 1 }, padding: 0.5, maxRotation: 0,
                   callback: v => String(v) },
          title: { display: true, text: 'Cluster number', color: '#000', font: { size: 12 },
                   padding: { top: 0, bottom: 3.8 } }
        },
        y: {
          type: 'linear', min: box.yMin, max: box.yMax,
          afterBuildTicks: s => { s.ticks = silTicks.map(v => ({ value: v })); },
          afterFit: s => { s.width = box.yWidth; },
          grid: { drawOnChartArea: false, tickColor: '#333', tickLength: 3 },
          border: { color: '#333', width: 1.2 },
          ticks: { color: '#4d4d4d', font: { size: 7.5 }, padding: 1, callback: v => v.toFixed(1) },
          title: { display: box.yTitle, text: 'Silhouette score', color: '#000', font: { size: 12 },
                   padding: { top: 7.1, bottom: 0 } }
        }
      }
    }
  });
}

barChart(addCanvas(0, 205, 205, 203), scoresK2, meanScores[0],
  { yWidth: 40, xHeight: 31.3, padTop: 23.3, padRight: 3.3, yMin: -0.025, yMax: 0.525, yTitle: true });
barChart(addCanvas(205, 205, 205, 203), scoresK3, meanScores[1],
  { yWidth: 24.3, xHeight: 31.3, padTop: 23.3, padRight: 3, yMin: -0.025, yMax: 0.525, yTitle: false });
barChart(addCanvas(410, 205, 205, 203), scoresK4, meanScores[2],
  { yWidth: 23.3, xHeight: 31.3, padTop: 23.3, padRight: 3.3, yMin: -0.025, yMax: 0.525, yTitle: false });
barChart(addCanvas(615, 205, 201, 203), scoresK5, meanScores[3],
  { yWidth: 22.7, xHeight: 31, padTop: 22.5, padRight: 2, yMin: -0.049, yMax: 0.526, yTitle: false });

addText('D', 10, 215.7, 'tag');
addText('Enterotyping in 2 clusters', 40.7, 215.7);
addText('E', 213.5, 215.7, 'tag');
addText('Enterotyping in 3 clusters', 230, 215.7);
addText('F', 417.5, 215.7, 'tag');
addText('Enterotyping in 4 clusters', 434.3, 215.7);
addText('G', 621.5, 215.7, 'tag');
addText('Enterotyping in 5 clusters', 638.3, 215.7);
</script>
</body>
</html>
